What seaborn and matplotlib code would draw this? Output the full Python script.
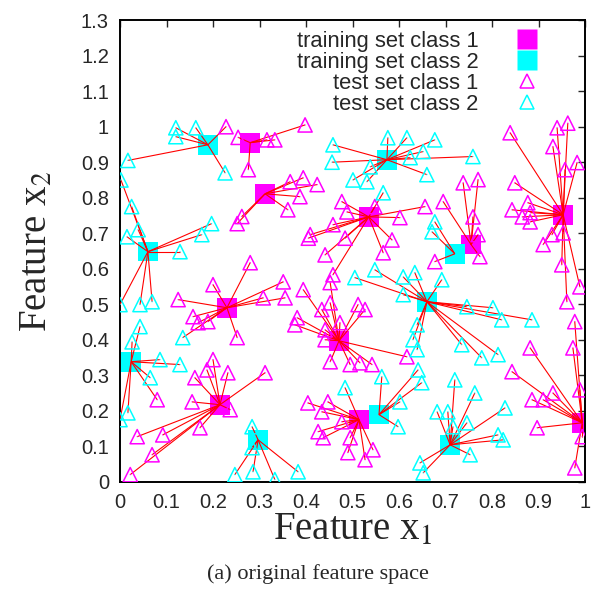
import numpy as np
import pandas as pd
import matplotlib
matplotlib.use("Agg")
import matplotlib.pyplot as plt
import seaborn as sns
from matplotlib.collections import LineCollection
from matplotlib.lines import Line2D

# training set (squares)
train1_x = [0.280, 0.312, 0.535, 0.755, 0.953, 0.230, 0.471, 0.215, 0.514, 0.994]
train1_y = [0.955, 0.811, 0.746, 0.668, 0.752, 0.490, 0.397, 0.217, 0.175, 0.166]
train2_x = [0.189, 0.060, 0.574, 0.720, 0.660, 0.024, 0.297, 0.557, 0.710]
train2_y = [0.949, 0.648, 0.907, 0.642, 0.507, 0.338, 0.118, 0.189, 0.104]

# test set class 1 (magenta triangles)
test1_x = [0.228, 0.254, 0.276, 0.262, 0.252, 0.398, 0.316, 0.333,
           0.366, 0.394, 0.424, 0.387, 0.361,
           0.477, 0.488, 0.458, 0.409, 0.548, 0.602, 0.656,
           0.405, 0.484, 0.585, 0.441, 0.566,
           0.738, 0.770, 0.695, 0.759, 0.770, 0.774, 0.677,
           0.839, 0.940, 0.963, 0.931, 0.957, 0.983, 0.849, 0.843, 0.877,
           0.865, 0.882, 0.882, 0.929, 0.953, 0.910,
           0.950, 0.989, 0.961, 0.978, 0.974, 0.882, 0.843, 0.886, 0.910,
           0.931, 0.989, 0.897, 0.994, 0.978,
           0.280, 0.200, 0.125, 0.308, 0.157, 0.168, 0.189, 0.252,
           0.351, 0.355, 0.394, 0.458, 0.452, 0.452, 0.434, 0.512, 0.527,
           0.473, 0.381, 0.376, 0.441, 0.441, 0.617, 0.452, 0.495, 0.516, 0.542,
           0.200, 0.161, 0.187, 0.232, 0.312, 0.080, 0.155, 0.237, 0.172,
           0.037, 0.092, 0.069, 0.022,
           0.404, 0.447, 0.434, 0.477, 0.426, 0.437, 0.495, 0.490, 0.544, 0.527]
test1_y = [1.000, 0.970, 0.879, 0.747, 0.727, 1.005, 0.963, 0.963,
           0.845, 0.856, 0.837, 0.803, 0.766,
           0.789, 0.760, 0.724, 0.696, 0.775, 0.744, 0.775,
           0.686, 0.686, 0.681, 0.639, 0.645,
           0.842, 0.851, 0.789, 0.746, 0.696, 0.634, 0.620,
           0.983, 0.997, 1.010, 0.944, 0.879, 0.899, 0.842, 0.766, 0.786,
           0.746, 0.758, 0.732, 0.696, 0.701, 0.668,
           0.611, 0.549, 0.507, 0.451, 0.377, 0.377, 0.310, 0.231, 0.231,
           0.250, 0.259, 0.152, 0.127, 0.039,
           0.617, 0.555, 0.513, 0.518, 0.465, 0.448, 0.451, 0.406,
           0.563, 0.518, 0.541, 0.583, 0.561, 0.504, 0.485, 0.499, 0.485,
           0.448, 0.462, 0.442, 0.428, 0.400, 0.352, 0.338, 0.330, 0.335, 0.330,
           0.344, 0.293, 0.315, 0.307, 0.307, 0.231, 0.225, 0.203, 0.152,
           0.127, 0.132, 0.076, 0.020,
           0.222, 0.225, 0.197, 0.169, 0.141, 0.124, 0.124, 0.082, 0.090, 0.062]

# test set class 2 (cyan triangles)
test2_x = [0.120, 0.163, 0.120, 0.017, 0.226,
           0.002, 0.025, 0.039, 0.015, 0.197, 0.176, 0.129, 0.000, 0.043, 0.069,
           0.458, 0.456, 0.501, 0.531, 0.538, 0.576, 0.617, 0.652, 0.624, 0.660,
           0.566, 0.677, 0.759, 0.677, 0.671,
           0.692, 0.746, 0.802, 0.821, 0.886, 0.735, 0.778, 0.813,
           0.505, 0.548, 0.609, 0.634, 0.609, 0.639, 0.630, 0.639,
           0.043, 0.026, 0.135, 0.086, 0.129, 0.065, 0.017, 0.000,
           0.284, 0.284, 0.247, 0.286, 0.383, 0.333,
           0.563, 0.641, 0.649, 0.484, 0.602, 0.598,
           0.720, 0.763, 0.682, 0.705, 0.716, 0.746, 0.828, 0.813, 0.824,
           0.753, 0.652, 0.645]
test2_y = [0.997, 0.997, 0.972, 0.905, 0.870,
           0.850, 0.775, 0.710, 0.690, 0.727, 0.696, 0.648, 0.499, 0.499, 0.507,
           0.949, 0.900, 0.850, 0.845, 0.887, 0.969, 0.969, 0.930, 0.913, 0.865,
           0.814, 0.963, 0.916, 0.732, 0.704,
           0.569, 0.493, 0.490, 0.456, 0.456, 0.386, 0.349, 0.358,
           0.575, 0.597, 0.577, 0.589, 0.527, 0.442, 0.400, 0.372,
           0.437, 0.394, 0.406, 0.344, 0.330, 0.293, 0.194, 0.175,
           0.155, 0.096, 0.020, 0.028, 0.028, 0.006,
           0.296, 0.315, 0.279, 0.265, 0.225, 0.155,
           0.287, 0.250, 0.197, 0.197, 0.155, 0.166, 0.208, 0.132, 0.118,
           0.076, 0.025, 0.053]

# links that are not the plain nearest neighbour: (class, test index) -> training index
link_fix = {(2, 9): 10 + 1}

MAG = "#ff00ff"
CYA = "#00ffff"

train = pd.DataFrame({"x": train1_x + train2_x, "y": train1_y + train2_y,
                      "cls": [1] * len(train1_x) + [2] * len(train2_x)})
test = pd.DataFrame({"x": test1_x + test2_x, "y": test1_y + test2_y,
                     "cls": [1] * len(test1_x) + [2] * len(test2_x),
                     "idx": list(range(len(test1_x))) + list(range(len(test2_x)))})

tp = train[["x", "y"]].to_numpy()
segs = []
for _, r in test.iterrows():
    d = np.hypot(tp[:, 0] - r.x, tp[:, 1] - r.y)
    j = link_fix.get((int(r.cls), int(r.idx)), int(np.argmin(d)))
    segs.append([(r.x, r.y), (tp[j, 0], tp[j, 1])])

sns.set_style("white")
plt.rcParams["font.family"] = ["Liberation Sans", "DejaVu Sans"]
plt.rcParams["mathtext.fontset"] = "stix"

fig = plt.figure(figsize=(6.0, 5.94), dpi=100)
ax = fig.add_axes([0.2, 0.189, 0.775, 0.777])

sns.scatterplot(data=train[train.cls == 1], x="x", y="y", marker="s", s=200,
                color=MAG, edgecolor="none", linewidth=0, ax=ax, zorder=2)
sns.scatterplot(data=train[train.cls == 2], x="x", y="y", marker="s", s=200,
                color=CYA, edgecolor="none", linewidth=0, ax=ax, zorder=2)

ax.add_collection(LineCollection(segs, colors="red", linewidths=0.8, zorder=3))

for c, col in [(1, MAG), (2, CYA)]:
    sub = test[test.cls == c]
    sns.scatterplot(data=sub, x="x", y="y", marker="^", s=105, facecolor="none",
                    edgecolor=col, linewidth=1.1, ax=ax, zorder=4)
    sns.scatterplot(data=sub, x="x", y="y", marker=".", s=3, color=col,
                    edgecolor="none", ax=ax, zorder=4)

ax.set_xlim(0, 1)
ax.set_ylim(0, 1.3)
xt = np.round(np.arange(0, 1.01, 0.1), 1)
yt = np.round(np.arange(0, 1.31, 0.1), 1)
ax.set_xticks(xt)
ax.set_xticklabels([f"{v:g}" for v in xt])
ax.set_yticks(yt)
ax.set_yticklabels([f"{v:g}" for v in yt])
ax.tick_params(direction="in", length=5, width=1, top=True, right=True,
               labelsize=14.5, pad=8)
for s in ax.spines.values():
    s.set_linewidth(1.4)
    s.set_color("black")

ax.set_xlabel("Feature x$_1$", family="Liberation Serif", fontsize=28, labelpad=0)
ax.set_ylabel("Feature x$_2$", family="Liberation Serif", fontsize=28, labelpad=18)

handles = [
    Line2D([], [], ls="none", marker="s", ms=14, color=MAG, mec="none"),
    Line2D([], [], ls="none", marker="s", ms=14, color=CYA, mec="none"),
    Line2D([], [], ls="none", marker="^", ms=9.5, mfc="none", mec=MAG, mew=1.1),
    Line2D([], [], ls="none", marker="^", ms=9.5, mfc="none", mec=CYA, mew=1.1),
]
labels = ["training set class 1", "training set class 2",
          "test set class 1", "test set class 2"]
ax.legend(handles, labels, loc="upper right", bbox_to_anchor=(0.95, 1.006),
          frameon=False, markerfirst=False, fontsize=15.8, handlelength=2.0,
          handletextpad=1.2, labelspacing=0.0, borderaxespad=0.2)

fig.text(0.53, 0.025, "(a) original feature space", ha="center",
         family="Liberation Serif", fontsize=16)

fig.savefig("out.png", dpi=100)
